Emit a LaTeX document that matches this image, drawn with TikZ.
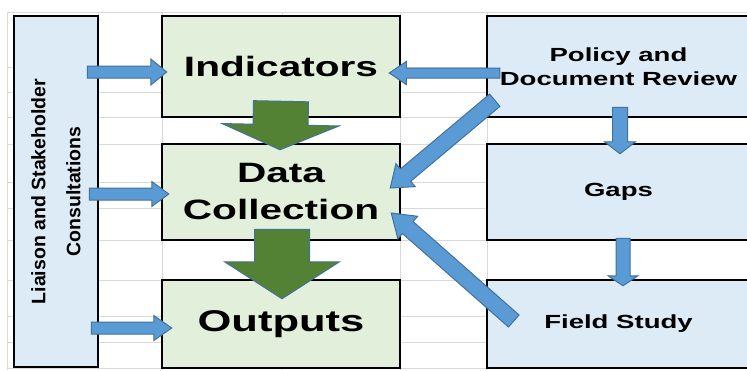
\documentclass[tikz,border=0pt]{standalone}
\usepackage{fontspec}
\setmainfont{Liberation Sans}
\newfontfamily\wideBold[FakeStretch=1.45]{Liberation Sans Bold}
\newfontfamily\sideBold{Liberation Sans Bold}
\usetikzlibrary{calc}

\definecolor{boxGreen}{HTML}{E2EFDA}
\definecolor{boxBlue}{HTML}{DDEBF7}
\definecolor{arrowBlue}{HTML}{5B9BD5}
\definecolor{arrowEdge}{HTML}{41719C}
\definecolor{arrowGreen}{HTML}{548235}
\definecolor{gridGray}{HTML}{D9D9D9}

\tikzstyle{gridLine} = [draw = gridGray, line width = 1]
\tikzstyle{greenBox} = [draw, line width = 2.5, fill = boxGreen,
                        inner sep = 0, minimum width = 238, align = center,
                        font = \wideBold\fontsize{28}{37}\selectfont
                        ]
\tikzstyle{blueBox} = [draw, line width = 2.5, fill = boxBlue,
                       inner sep = 0, minimum width = 263, align = center,
                       font = \wideBold\fontsize{19}{24}\selectfont
                       ]
\tikzstyle{sideBox} = [draw, line width = 2.5, fill = boxBlue, rotate = 90,
                       inner sep = 0, minimum width = 351, minimum height = 84,
                       align = center,
                       font = \sideBold\fontsize{19.5}{35}\selectfont
                       ]
\tikzstyle{blueArrow} = [fill = arrowBlue, draw = arrowEdge, line width = 1]
\tikzstyle{greenArrow} = [fill = arrowGreen, draw = arrowEdge, line width = 1]

% [style]{from}{to}{shaft half width}{head half width}{head length}
\newcommand{\blockArrow}[6][]{%
    \coordinate (hd) at ($(#3)!#6pt!(#2)$);
    \filldraw[#1] ($(#2)!#4pt!90:(#3)$) -- ($(hd)!#4pt!90:(#3)$)
        -- ($(hd)!#5pt!90:(#3)$) -- (#3) -- ($(hd)!#5pt!-90:(#3)$)
        -- ($(hd)!#4pt!-90:(#3)$) -- ($(#2)!#4pt!-90:(#3)$) -- cycle;
}

\begin{document}
\begin{tikzpicture}[x = 1pt, y = -1pt]

    \useasboundingbox (0, 0) rectangle (747, 370);
    \clip (0, 0) rectangle (747, 370);
    \fill[white] (0, 0) rectangle (747, 370);

    %%% Sheet grid
    \foreach \y in {12, 67, 92, 117, 144, 182, 208, 240, 280, 316, 342, 368}
        \draw[gridLine] (7, \y) -- (747, \y);
    \foreach \x in {7, 98, 162, 282, 400, 487}
        \draw[gridLine] (\x, 12) -- (\x, 370);

    %%% Boxes
    % Left
    \node (liaison) at (56, 191.5) [sideBox]{Liaison and Stakeholder\\Consultations};

    % Middle
    \node (indicators) at (281, 66.5) [greenBox, minimum height = 101]{Indicators};
    \node (datacoll) at (281, 192) [greenBox, minimum height = 96]{Data\\Collection};
    \node (outputs) at (281, 324) [greenBox, minimum height = 88,
                                   font = \wideBold\fontsize{30}{37}\selectfont]{Outputs};

    % Right
    \node (policy) at (618.5, 66.5) [blueBox, minimum height = 101]{Policy and\\Document Review};
    \node (gaps) at (618.5, 192) [blueBox, minimum height = 96]{Gaps};
    \node (field) at (618.5, 324) [blueBox, minimum height = 88]{Field Study};

    %%% Arrows
    % Liaison (rotated: south is the right side)
    \coordinate (l1) at ($(liaison.south |- indicators.west) + (-12, 5.5)$);
    \coordinate (i1) at ($(indicators.west) + (6, 5.5)$);
    \blockArrow[blueArrow]{l1}{i1}{6}{13}{16}
    \coordinate (l2) at ($(liaison.south |- datacoll.west) + (-10, 2)$);
    \coordinate (d1) at ($(datacoll.west) + (8, 2)$);
    \blockArrow[blueArrow]{l2}{d1}{6}{12.5}{17}
    \coordinate (l3) at ($(liaison.south |- outputs.west) + (-8, 4)$);
    \coordinate (o1) at ($(outputs.west) + (11, 4)$);
    \blockArrow[blueArrow]{l3}{o1}{6}{12.5}{18}

        % Policy
        \coordinate (p1) at ($(policy.west) + (14, 6.5)$);
        \coordinate (i2) at ($(indicators.east) + (-12, 6.5)$);
        \blockArrow[blueArrow]{p1}{i2}{5}{11.5}{17}
        \coordinate (p2) at ($(policy.south west) + (9, -18)$);
        \coordinate (d2) at ($(datacoll.east) + (-11, -4)$);
        \blockArrow[blueArrow]{p2}{d2}{8}{15}{20}
        \coordinate (p3) at ($(policy.south) + (1.5, -11)$);
        \coordinate (g1) at ($(gaps.north) + (1.5, 11)$);
        \blockArrow[blueArrow]{p3}{g1}{7.5}{15.5}{12}

        % Gaps and Field Study
        \coordinate (g2) at ($(gaps.south) + (4.5, -3)$);
        \coordinate (f1) at ($(field.north) + (4.5, 7)$);
        \blockArrow[blueArrow]{g2}{f1}{7}{15}{10}
        \coordinate (f2) at ($(field.west) + (28, -3)$);
        \coordinate (d3) at ($(datacoll.east) + (-10, 21)$);
        \blockArrow[blueArrow]{f2}{d3}{8}{15}{22}

    % Down the middle
    \coordinate (i3) at ($(indicators.south) + (0, -17)$);
    \coordinate (d4) at ($(datacoll.north) + (-1, 7)$);
    \blockArrow[greenArrow]{i3}{d4}{27.5}{58.5}{25}
    \coordinate (d5) at ($(datacoll.south) + (1, -12)$);
    \coordinate (o2) at ($(outputs.north) + (1, 20)$);
    \blockArrow[greenArrow]{d5}{o2}{27.5}{57.5}{37}

\end{tikzpicture}
\end{document}
